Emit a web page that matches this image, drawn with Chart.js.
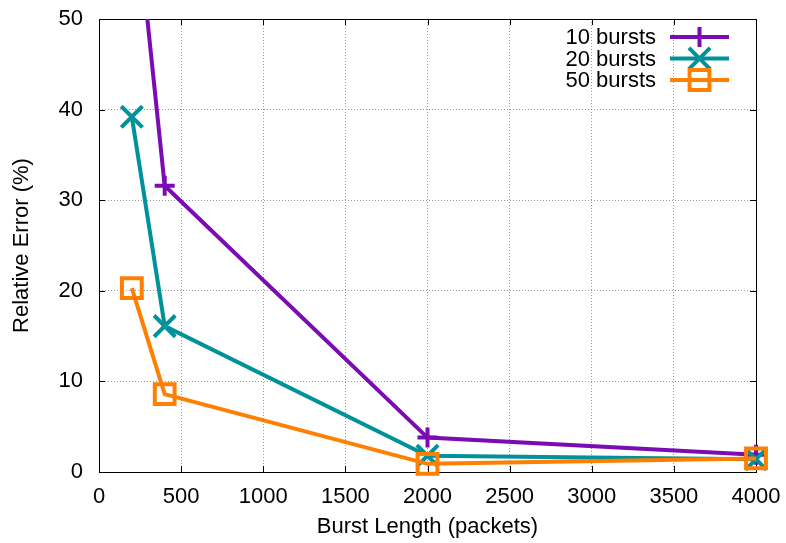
<!DOCTYPE html>
<html>
<head>
<meta charset="utf-8">
<script src="https://cdn.jsdelivr.net/npm/chart.js@4.4.0/dist/chart.umd.min.js"></script>
<style>
  body { margin: 0; background: #fff; }
</style>
</head>
<body>
<canvas id="myChart" width="786" height="543"></canvas>
<script>
// values
const burstLength = [200, 400, 2000, 4000]
const bursts10 = [66.4, 31.6, 3.8, 1.9]
const bursts20 = [39.2, 16.1, 1.8, 1.4]
const bursts50 = [20.3, 8.6, 0.9, 1.5]
const seriesLabels = ['10 bursts', '20 bursts', '50 bursts']
const seriesColors = ['#7b0bb2', '#00929a', '#ff7f00']
const xTitle = 'Burst Length (packets)'
const yTitle = 'Relative Error (%)'

const FONT = '"Liberation Sans", Arial, sans-serif'
Chart.defaults.font.family = FONT
Chart.defaults.font.size = 22
Chart.defaults.color = '#000'

const toPoints = ys => ys.map((y, i) => ({ x: burstLength[i], y: y }))

const makeSet = (label, ys, color, style, radius, order) => ({
    label: label,
    data: toPoints(ys),
    borderColor: color,
    backgroundColor: 'rgba(0,0,0,0)',
    borderWidth: 4,
    pointStyle: style,
    pointRadius: radius,
    pointBorderWidth: 4,
    pointBorderColor: color,
    pointBackgroundColor: 'rgba(0,0,0,0)',
    pointHoverRadius: radius,
    tension: 0,
    order: order,
    clip: { left: 30, right: 30, top: 0, bottom: 30 }
})

// gnuplot-ish frame with inward ticks on all four sides
const framePlugin = {
    id: 'frame',
    beforeDatasetsDraw(chart) {
        const { ctx, chartArea: a, scales } = chart
        ctx.save()
        ctx.strokeStyle = '#000'
        ctx.lineWidth = 1
        ctx.strokeRect(a.left + 0.5, a.top + 0.5, a.right - a.left, a.bottom - a.top)
        ctx.beginPath()
        scales.x.ticks.forEach(t => {
            const px = Math.round(scales.x.getPixelForValue(t.value)) + 0.5
            ctx.moveTo(px, a.bottom); ctx.lineTo(px, a.bottom - 6)
            ctx.moveTo(px, a.top); ctx.lineTo(px, a.top + 6)
        })
        scales.y.ticks.forEach(t => {
            const py = Math.round(scales.y.getPixelForValue(t.value)) + 0.5
            ctx.moveTo(a.left, py); ctx.lineTo(a.left + 6, py)
            ctx.moveTo(a.right, py); ctx.lineTo(a.right - 6, py)
        })
        ctx.stroke()
        ctx.restore()
    }
}

// legend drawn gnuplot style: text right aligned, sample line + marker after it
const legendPlugin = {
    id: 'gnuLegend',
    afterDraw(chart) {
        const { ctx, chartArea: a } = chart
        const lineEnd = a.right - 27
        const lineStart = lineEnd - 59
        chart.data.datasets.forEach((ds, i) => {
            const y = a.top + 18 + i * 21.5
            ctx.save()
            ctx.font = '22px ' + FONT
            ctx.fillStyle = '#000'
            ctx.textAlign = 'right'
            ctx.textBaseline = 'middle'
            ctx.fillText(ds.label, lineStart - 14, y + 1)
            ctx.strokeStyle = ds.borderColor
            ctx.lineWidth = 4
            ctx.beginPath()
            ctx.moveTo(lineStart, y)
            ctx.lineTo(lineEnd, y)
            ctx.stroke()
            ctx.fillStyle = 'rgba(0,0,0,0)'
            Chart.helpers.drawPoint(ctx, { pointStyle: ds.pointStyle, radius: ds.pointRadius, borderWidth: 4, rotation: 0 },
                (lineStart + lineEnd) / 2, y)
            ctx.restore()
        })
    }
}

const ctx = document.getElementById('myChart').getContext('2d')
const chart = new Chart(ctx, {
    type: 'line',
    data: {
        datasets: [
            makeSet(seriesLabels[0], bursts10, seriesColors[0], 'cross', 10, 3),
            makeSet(seriesLabels[1], bursts20, seriesColors[1], 'crossRot', 15, 2),
            makeSet(seriesLabels[2], bursts50, seriesColors[2], 'rect', 14, 1)
        ]
    },
    options: {
        responsive: false,
        animation: false,
        layout: { padding: { top: 15, right: 30, left: 0, bottom: 0 } },
        plugins: {
            legend: { display: false },
            tooltip: { enabled: false }
        },
        scales: {
            x: {
                type: 'linear',
                min: 0,
                max: 4000,
                ticks: { stepSize: 500, padding: 12, maxRotation: 0, callback: v => String(v) },
                grid: { color: '#999', drawTicks: false, lineWidth: 1 },
                border: { display: false, dash: [1, 2] },
                title: { display: true, text: xTitle, padding: { top: 0, bottom: 3 } },
                afterFit: s => { s.height = 71; s.paddingLeft = 0; s.paddingRight = 0 }
            },
            y: {
                min: 0,
                max: 50,
                ticks: { stepSize: 10, padding: 16 },
                grid: { color: '#999', drawTicks: false, lineWidth: 1 },
                border: { display: false, dash: [1, 2] },
                title: { display: true, text: yTitle, padding: { top: 9, bottom: 0 } },
                afterFit: s => { s.width = 99; s.paddingTop = 0; s.paddingBottom = 0 }
            }
        }
    },
    plugins: [framePlugin, legendPlugin]
})
</script>
</body>
</html>
